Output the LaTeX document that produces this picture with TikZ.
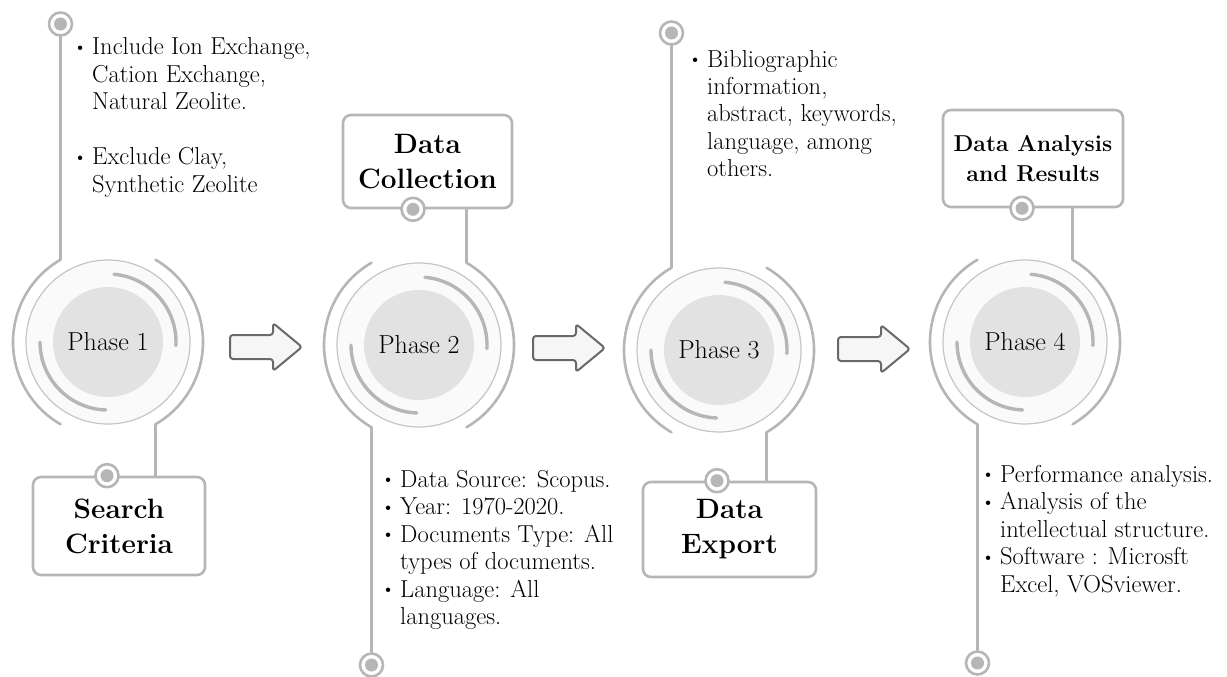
\documentclass[tikz,border=0pt]{standalone}
\usepackage{graphicx}
\usetikzlibrary{calc}
\definecolor{ringgray}{RGB}{182,182,182}
\definecolor{diskgray}{RGB}{226,226,226}
\definecolor{midwhite}{RGB}{250,250,250}
\definecolor{arrowgray}{RGB}{105,105,105}
\definecolor{arrowfill}{RGB}{246,246,246}
\newcommand{\bul}{\makebox[13pt][l]{\hspace{-6pt}\raisebox{1.5pt}{\scalebox{.8}{\textbullet}}}}
\begin{document}
\begin{tikzpicture}[x=1pt,y=-1pt, line join=round, line cap=round,
	ring/.style={draw=ringgray, line width=2.6pt},
	inarc/.style={draw=ringgray, line width=3.4pt},
	phase/.style={circle, draw=ringgray!80, line width=1.2pt, fill=midwhite, minimum size=164pt, inner sep=0pt,
		font=\fontsize{26}{30}\selectfont,
		path picture={\fill[diskgray] (path picture bounding box.center) circle (55pt);}},
	titlebox/.style={rectangle, rounded corners=8pt, draw=ringgray, line width=2.6pt, fill=white, align=center,
		font=\fontsize{28}{35}\selectfont\bfseries},
	dot/.style={circle, draw=ringgray, line width=2.6pt, fill=white, minimum size=23pt, inner sep=0pt,
		path picture={\fill[ringgray] (path picture bounding box.center) circle (6.5pt);}},
	notes/.style={anchor=base west, inner sep=0pt, font=\fontsize{24.5}{27.5}\selectfont},
	blockarrow/.pic={\draw[arrowgray, fill=arrowfill, line width=2pt, rounded corners=3pt]
		(0,-12) -- (43,-12) -- (43,-24) -- (72,0) -- (43,24) -- (43,12) -- (0,12) -- cycle;}]
	\useasboundingbox (0,0) rectangle (1227,677);
	% phase circles
	\node[phase] (p1) at (108,342) {Phase 1};
	\node[phase] (p2) at (419,345) {Phase 2};
	\node[phase] (p3) at (719,350) {Phase 3};
	\node[phase] (p4) at (1025,342) {Phase 4};
	\foreach \n in {1,...,4}{
		\draw[inarc] ($(p\n.center)+(-85:68)$) arc[start angle=-85, end angle=3, radius=68];
		\draw[inarc] ($(p\n.center)+(92:68)$) arc[start angle=92, end angle=180, radius=68];
	}
	% boxes and end dots
	\node[titlebox, minimum width=172pt, minimum height=98pt] (b1) at (119,526) {Search\\Criteria};
	\node[titlebox, minimum width=169pt, minimum height=93pt] (b2) at (427.5,161.5) {Data\\Collection};
	\node[titlebox, minimum width=173pt, minimum height=95pt] (b3) at (729.5,529.5) {Data\\Export};
	\node[titlebox, minimum width=180pt, minimum height=97pt, font=\fontsize{23}{30}\selectfont\bfseries] (b4) at (1033,158.5) {Data Analysis\\and Results};
	\node[dot] (t1) at (60.5,24) {};
	\node[dot] (u2) at (371.5,665) {};
	\node[dot] (t3) at (671.5,33) {};
	\node[dot] (u4) at (977.5,663) {};
	% rings, phase 1 and 3
	\foreach \n in {1,3}{
		\draw[ring] (t\n) -- ($(p\n.center)+(240:95)$) arc[start angle=240, end angle=120, radius=95];
		\draw[ring] ($(p\n.center)+(-60:95)$) arc[start angle=-60, end angle=60, radius=95] coordinate (c\n) -- (c\n |- b\n.north);
	}
	% rings, phase 2 and 4
	\foreach \n in {2,4}{
		\draw[ring] ($(p\n.center)+(-60:95)$) coordinate (c\n) arc[start angle=-60, end angle=60, radius=95];
		\draw[ring] (c\n) -- (c\n |- b\n.south);
		\draw[ring] ($(p\n.center)+(240:95)$) arc[start angle=240, end angle=120, radius=95] -- (u\n);
	}
	\node[dot] (s1) at (b1.north -| 107,0) {};
	\node[dot] (s2) at (b2.south -| 413,0) {};
	\node[dot] (s3) at (b3.north -| 717,0) {};
	\node[dot] (s4) at (b4.south -| 1022,0) {};
	% arrows
	\pic at (230,347) {blockarrow};
	\pic at (533,348) {blockarrow};
	\pic at (838,349) {blockarrow};
	% notes
	\node[notes] (n1) at (79,55) {\begin{tabular}[t]{@{}l@{}l@{}}
		\bul & Include Ion Exchange,\\
		& Cation Exchange,\\
		& Natural Zeolite.\\
		& \\
		\bul & Exclude Clay,\\
		& Synthetic Zeolite
	\end{tabular}};
	\node[notes] (n2) at (387,487) {\begin{tabular}[t]{@{}l@{}l@{}}
		\bul & Data Source: Scopus.\\
		\bul & Year: 1970-2020.\\
		\bul & Documents Type: All\\
		& types of documents.\\
		\bul & Language: All\\
		& languages.
	\end{tabular}};
	\node[notes] (n3) at (694,67) {\begin{tabular}[t]{@{}l@{}l@{}}
		\bul & Bibliographic\\
		& information,\\
		& abstract, keywords,\\
		& language, among\\
		& others.
	\end{tabular}};
	\node[notes] (n4) at (987,482) {\begin{tabular}[t]{@{}l@{}l@{}}
		\bul & Performance analysis.\\
		\bul & Analysis of the\\
		& intellectual structure.\\
		\bul & Software : Microsft\\
		& Excel, VOSviewer.
	\end{tabular}};
\end{tikzpicture}
\end{document}
